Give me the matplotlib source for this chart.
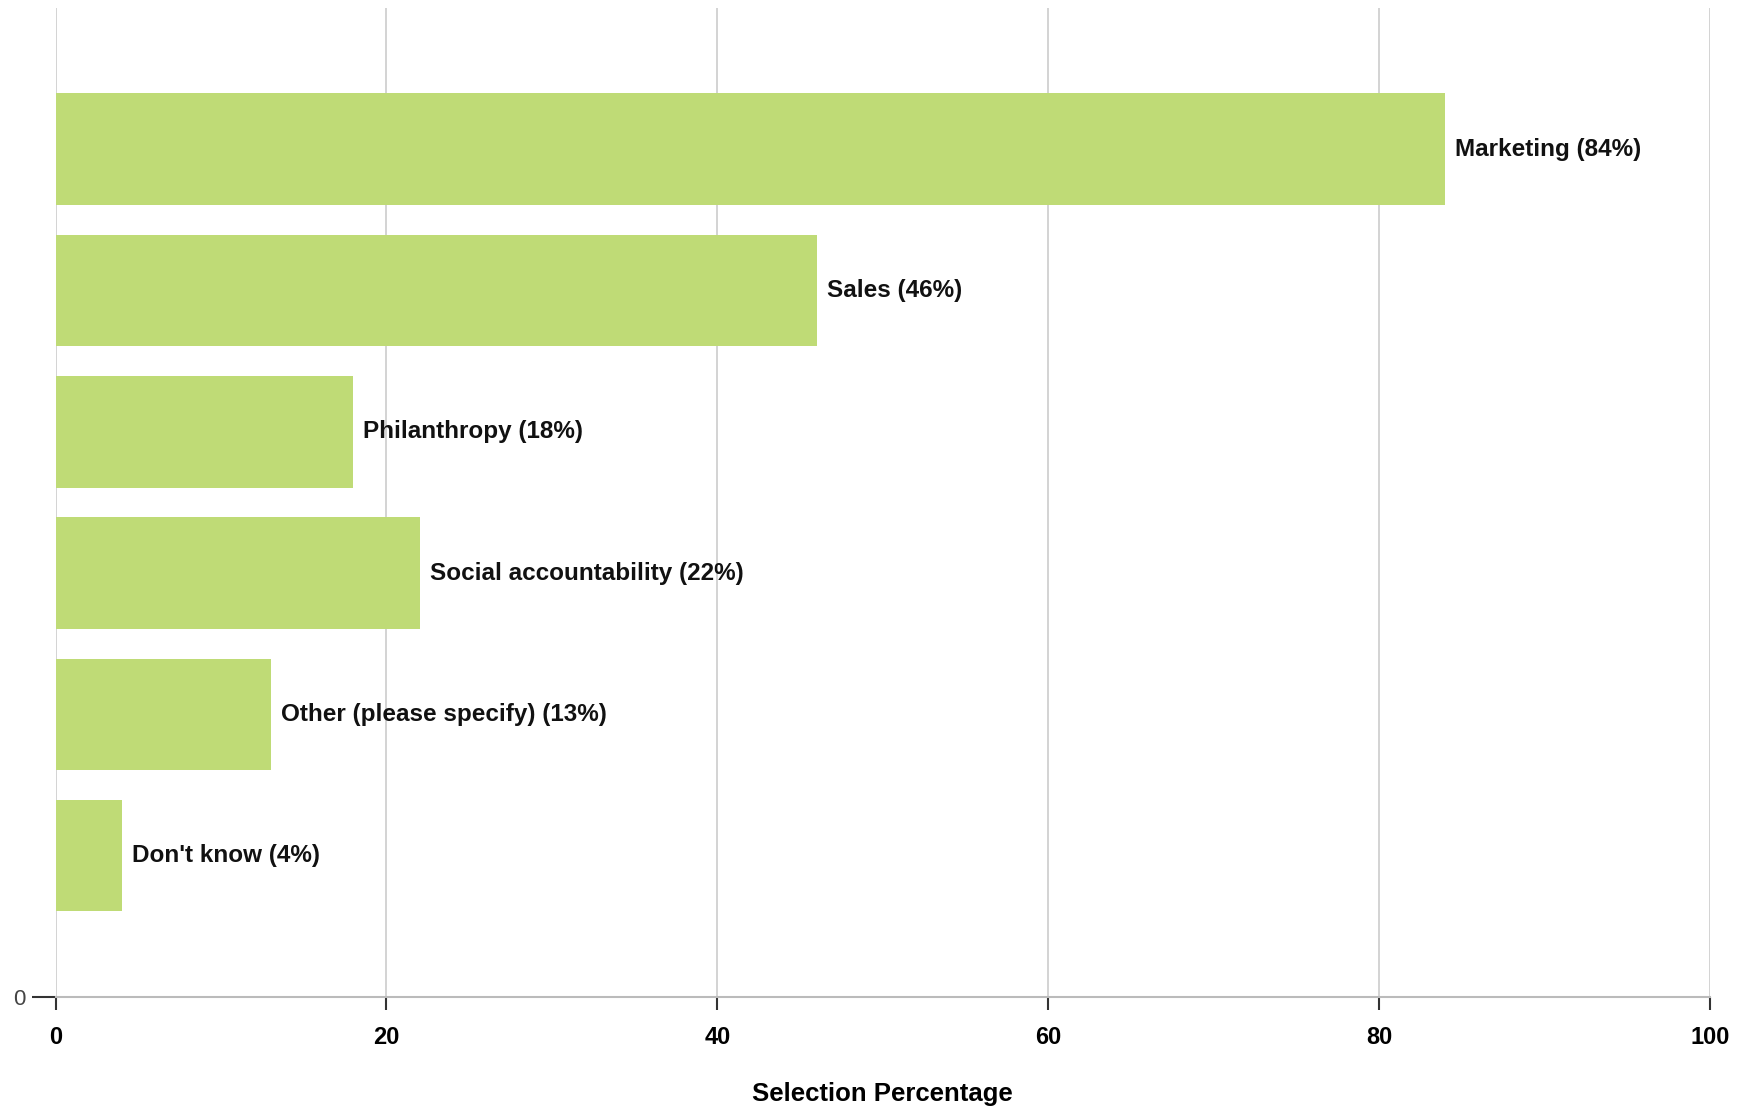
import matplotlib.pyplot as plt

categories = ["Don't know", "Other (please specify)", "Social accountability",
              "Philanthropy", "Sales", "Marketing"]
values = [4, 13, 22, 18, 46, 84]
positions = [1, 2, 3, 4, 5, 6]
x_ticks = [0, 20, 40, 60, 80, 100]

plt.rcParams["font.family"] = ["Liberation Sans", "DejaVu Sans"]

fig = plt.figure(figsize=(17.43, 11.07), dpi=100)
ax = fig.add_axes([0.0319, 0.0994, 0.9492, 0.8936])

ax.barh(positions, values, height=0.79, color="#bfdb76", zorder=2)

for p, v, c in zip(positions, values, categories):
    ax.text(v + 0.6, p, f"{c} ({v}%)", va="center", ha="left",
            fontsize=17.5, fontweight="bold", color="#111111")

ax.set_xlim(0, 100)
ax.set_ylim(0, 7)
ax.set_xticks(x_ticks)
ax.set_yticks([0])
ax.set_yticklabels(["0"])
ax.tick_params(axis="x", length=9, width=1.5, color="#333333", labelsize=17, pad=12)
ax.tick_params(axis="y", length=17, width=1.5, color="#333333", labelsize=16,
               labelcolor="#444444", pad=5)
for lbl in ax.get_xticklabels():
    lbl.set_fontweight("bold")

ax.grid(axis="x", color="#cccccc", linewidth=1.2, zorder=0)
for s in ["top", "right", "left"]:
    ax.spines[s].set_visible(False)
ax.spines["bottom"].set_color("#bbbbbb")
ax.spines["bottom"].set_linewidth(1.5)

ax.set_xlabel("Selection Percentage", fontsize=18.5, fontweight="bold", labelpad=24)

plt.savefig("out.png", dpi=100)
